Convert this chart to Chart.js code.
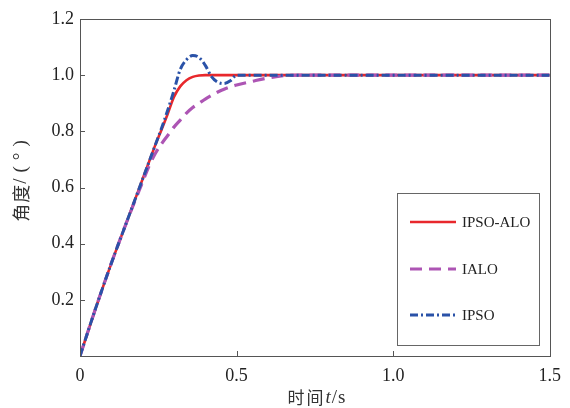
<!DOCTYPE html>
<html><head><meta charset="utf-8">
<script src="https://cdn.jsdelivr.net/npm/chart.js@4/dist/chart.umd.min.js"></script>
<style>html,body{margin:0;padding:0;background:#fff}#wrap{width:570px;height:408px;position:relative}</style>
</head><body><div id="wrap"><canvas id="c"></canvas></div>
<script>
// time (s)
const times   = [0,0.05,0.10,0.15,0.20,0.22,0.24,0.26,0.28,0.30,0.32,0.34,0.36,0.38,0.40,0.42,0.44,0.46,0.48,0.50,0.55,0.60,0.65,0.70,1.0,1.5];
// angle (°)
const ipsoAlo = [0,0.17,0.33,0.48,0.63,0.69,0.75,0.805,0.862,0.922,0.96,0.982,0.994,0.999,1.0,1.0,1.0,1.0,1.0,1.0,1.0,1.0,1.0,1.0,1.0,1.0];
const ialo    = [0,0.17,0.33,0.48,0.62,0.675,0.72,0.755,0.785,0.815,0.84,0.865,0.885,0.90,0.915,0.928,0.94,0.95,0.958,0.965,0.978,0.99,0.998,1.0,1.0,1.0];
const ipso    = [0,0.17,0.33,0.48,0.63,0.69,0.75,0.81,0.875,0.945,1.02,1.055,1.07,1.063,1.035,0.995,0.975,0.97,0.98,1.0,1.0,1.0,1.0,1.0,1.0,1.0];
const seriesNames = ['IPSO-ALO','IALO','IPSO'];
const xTicks = [0,0.5,1.0,1.5];
const yTicks = [0.2,0.4,0.6,0.8,1.0,1.2];
const xTitle = ['时间','t','/s'];
const yTitle = ['角度','/(°)'];

const SERIF = '"Liberation Serif","Times New Roman",serif';
const CJK = '"Noto Sans CJK SC",sans-serif';
const toXY = arr => times.map((t,i)=>({x:t,y:arr[i]}));

const styles = [
  {color:'#e8282c', width:2.6, dash:[]},
  {color:'#ad55b4', width:3.2, dash:[12,7]},
  {color:'#2a52a8', width:3.0, dash:[8,3,2,3]}
];
const values = [ipsoAlo, ialo, ipso];

const datasets = values.map((v,i)=>({
  label: seriesNames[i],
  data: toXY(v),
  borderColor: styles[i].color,
  backgroundColor: styles[i].color,
  borderWidth: styles[i].width,
  borderDash: styles[i].dash,
  pointRadius: 0,
  fill: false,
  cubicInterpolationMode: 'monotone',
  order: 2 - i
}));

const framePlugin = {
  id:'frame',
  afterDraw(chart){
    const ctx = chart.ctx, a = chart.chartArea;
    const xs = chart.scales.x, ys = chart.scales.y;
    ctx.save();
    ctx.strokeStyle = '#555'; ctx.lineWidth = 1; ctx.setLineDash([]);
    ctx.strokeRect(Math.round(a.left)+0.5, Math.round(a.top)+0.5, Math.round(a.right-a.left), Math.round(a.bottom-a.top));
    // inward ticks
    ctx.beginPath();
    xTicks.forEach(v=>{ const px=Math.round(xs.getPixelForValue(v))+0.5; ctx.moveTo(px,a.bottom); ctx.lineTo(px,a.bottom-5); });
    yTicks.forEach(v=>{ const py=Math.round(ys.getPixelForValue(v))+0.5; ctx.moveTo(a.left,py); ctx.lineTo(a.left+5,py); });
    ctx.stroke();

    // legend
    const bx=397, by=193, bw=142, bh=152;
    ctx.fillStyle='#fff'; ctx.fillRect(bx,by,bw,bh);
    ctx.strokeStyle='#666'; ctx.strokeRect(bx+0.5,by+0.5,bw,bh);
    const rows=[222,269,315];
    datasets.forEach((d,i)=>{
      ctx.strokeStyle=d.borderColor; ctx.lineWidth=d.borderWidth; ctx.setLineDash(d.borderDash);
      ctx.beginPath(); ctx.moveTo(410,rows[i]); ctx.lineTo(456,rows[i]); ctx.stroke();
      ctx.setLineDash([]);
      ctx.fillStyle='#222'; ctx.font='15px '+SERIF; ctx.textBaseline='middle'; ctx.textAlign='left';
      ctx.fillText(d.label,462,rows[i]+1);
    });

    // x title
    const xs1=[{t:xTitle[0],f:'17px '+CJK,ls:'2px'},{t:xTitle[1],f:'italic 19px '+SERIF,ls:'1px'},{t:xTitle[2],f:'19px '+SERIF,ls:'1px'}];
    ctx.fillStyle='#333'; ctx.textBaseline='middle'; ctx.textAlign='left';
    let tot=0; xs1.forEach(s=>{ctx.font=s.f; ctx.letterSpacing=s.ls; s.w=ctx.measureText(s.t).width; tot+=s.w;});
    let x=317-tot/2;
    xs1.forEach(s=>{ctx.font=s.f; ctx.letterSpacing=s.ls; ctx.fillText(s.t,x,398); x+=s.w;});

    // y title (rotated)
    ctx.translate(21,178); ctx.rotate(-Math.PI/2);
    const ys1=[{t:yTitle[0],f:'18px '+CJK,ls:'1px'},{t:yTitle[1],f:'19px '+SERIF,ls:'6px'}];
    tot=0; ys1.forEach(s=>{ctx.font=s.f; ctx.letterSpacing=s.ls; s.w=ctx.measureText(s.t).width; tot+=s.w;});
    x=-tot/2;
    ys1.forEach(s=>{ctx.font=s.f; ctx.letterSpacing=s.ls; ctx.fillText(s.t,x,0); x+=s.w;});
    ctx.restore();
  }
};

new Chart(document.getElementById('c'), {
  type:'line',
  data:{datasets},
  options:{
    responsive:true, maintainAspectRatio:false, animation:false,
    layout:{padding:{top:19,right:19,left:0,bottom:0}},
    plugins:{legend:{display:false},tooltip:{enabled:false}},
    scales:{
      x:{type:'linear',min:0,max:1.5,
        afterFit(s){s.height=52;},
        afterBuildTicks(s){s.ticks=xTicks.map(v=>({value:v}));},
        grid:{display:false,drawTicks:false},border:{display:false},
        ticks:{padding:9,color:'#222',font:{family:SERIF,size:18},maxRotation:0,
          callback:v=>v===0?'0':v.toFixed(1)}},
      y:{type:'linear',min:0,max:1.2,
        afterFit(s){s.width=80;},
        afterBuildTicks(s){s.ticks=yTicks.map(v=>({value:v}));},
        grid:{display:false,drawTicks:false},border:{display:false},
        ticks:{padding:6,color:'#222',font:{family:SERIF,size:18},
          callback:v=>v.toFixed(1)}}
    }
  },
  plugins:[framePlugin]
});
</script></body></html>
